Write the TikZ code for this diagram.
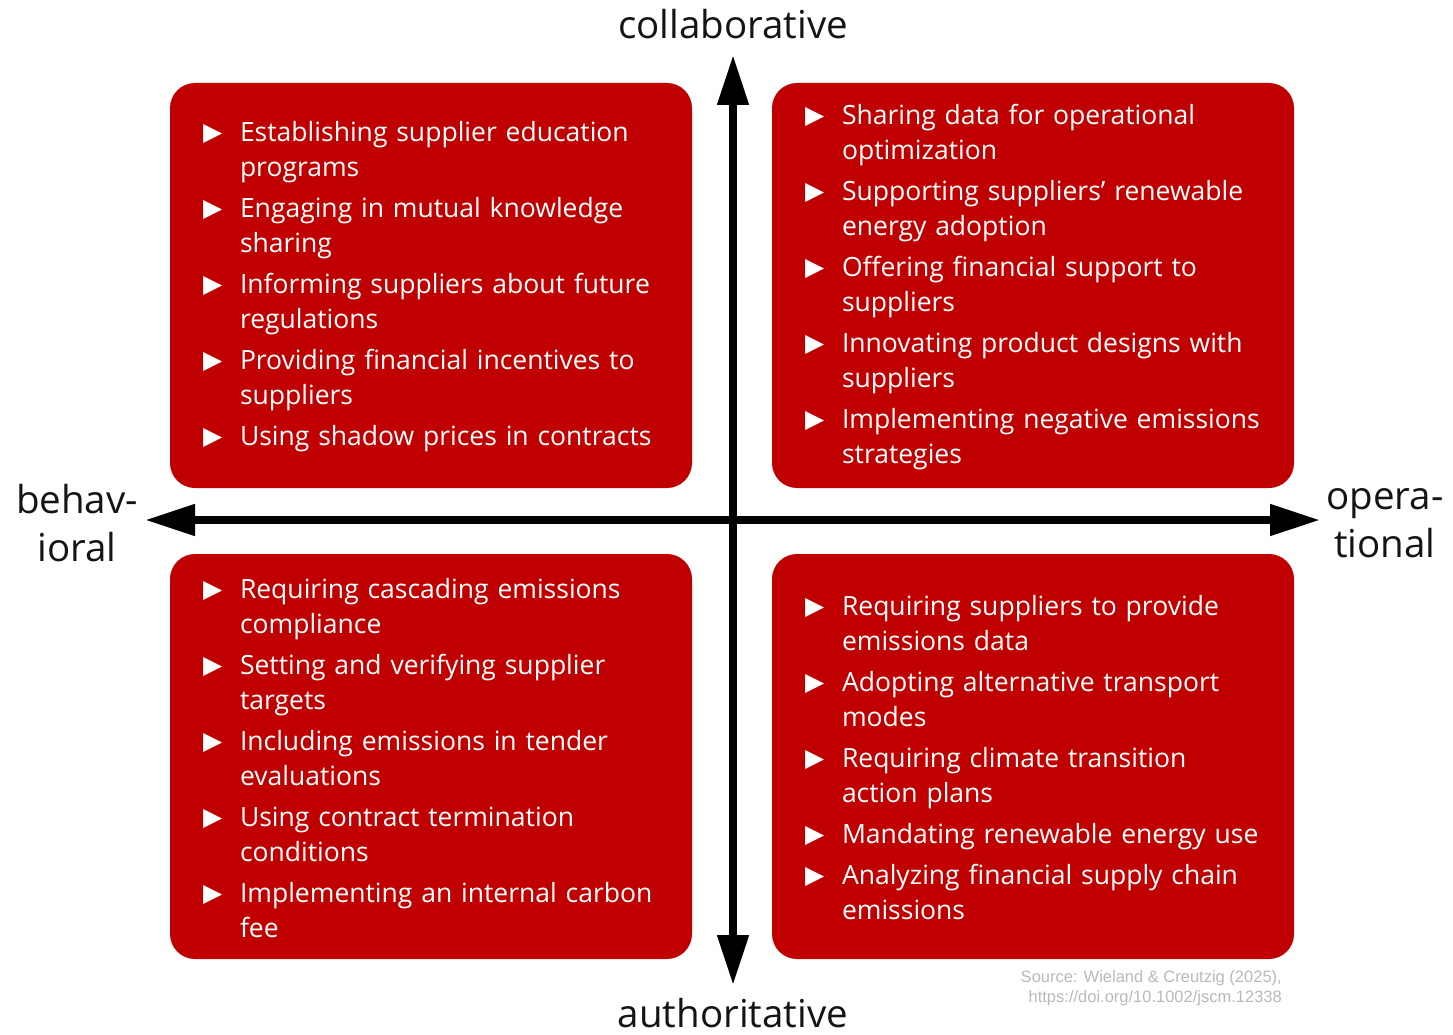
\documentclass[tikz,border=0pt]{standalone}
\usepackage{fontspec}
\setmainfont{Open Sans}
\newfontfamily\symfont{DejaVu Sans}
\newfontfamily\srcfont{Liberation Sans}
\usetikzlibrary{arrows.meta,positioning}
\definecolor{quadred}{RGB}{192,0,0}
\definecolor{srcgray}{RGB}{185,185,185}
\definecolor{axisblack}{RGB}{20,20,20}
\newcommand{\qitem}[1]{\par\hangindent=37pt\hangafter=1\noindent
  \makebox[37pt][l]{\raisebox{1pt}{\symfont\fontsize{25}{25}\selectfont ▶}}{\let\\\newline #1}\par}

\tikzset{
  quadbox/.style={fill=quadred, rounded corners=25pt, minimum width=522pt, minimum height=405pt,
    text width=456pt, text=white, align=left, inner sep=0pt, font=\fontsize{26.5}{35}\selectfont},
  axis/.style={line width=8pt, {Triangle[length=50pt,width=30pt]}-{Triangle[length=50pt,width=30pt]}},
  axislabel/.style={text=axisblack, align=center, font=\fontsize{38.5}{48}\selectfont},
  source/.style={text=srcgray, align=right, inner sep=0pt, font=\srcfont\fontsize{16.5}{20}\selectfont}
}

\begin{document}
\begin{tikzpicture}[x=1pt, y=-1pt]
  \useasboundingbox (0,0) rectangle (1453,1035);

  % quadrants
  \node[quadbox] (tl) at (431,285.5) {\setlength{\parskip}{6pt}\vspace*{-18pt}%
    \qitem{Establishing supplier education\\programs}
    \qitem{Engaging in mutual knowledge\\sharing}
    \qitem{Informing suppliers about future\\regulations}
    \qitem{Providing financial incentives to\\suppliers}
    \qitem{Using shadow prices in contracts}};
  \node[quadbox] (tr) at (1033,285.5) {\setlength{\parskip}{6pt}\vspace*{-18pt}%
    \qitem{Sharing data for operational\\optimization}
    \qitem{Supporting suppliers’ renewable\\energy adoption}
    \qitem{Offering financial support to\\suppliers}
    \qitem{Innovating product designs with\\suppliers}
    \qitem{Implementing negative emissions\\strategies}};
  \node[quadbox] (bl) at (431,756.5) {\setlength{\parskip}{6pt}\vspace*{-18pt}%
    \qitem{Requiring cascading emissions\\compliance}
    \qitem{Setting and verifying supplier\\targets}
    \qitem{Including emissions in tender\\evaluations}
    \qitem{Using contract termination\\conditions}
    \qitem{Implementing an internal carbon\\fee}};
  \node[quadbox] (br) at (1033,756.5) {\setlength{\parskip}{6pt}\vspace*{-18pt}%
    \qitem{Requiring suppliers to provide\\emissions data}
    \qitem{Adopting alternative transport\\modes}
    \qitem{Requiring climate transition\\action plans}
    \qitem{Mandating renewable energy use}
    \qitem{Analyzing financial supply chain\\emissions}};

  % axes
  \coordinate (ctop) at (733,55);
  \coordinate (cbot) at (733,985);
  \coordinate (cleft) at (145,520);
  \coordinate (cright) at (1320,520);
  \draw[axis] (cbot) -- (ctop);
  \draw[axis] (cleft) -- (cright);

  % axis labels
  \node[axislabel] (lcollab) at (733,24) {collaborative};
  \node[axislabel] (lauth) at (733,1013) {authoritative};
  \node[axislabel] (lbehav) at (77,523) {behav-\\ioral};
  \node[axislabel] (loper) at (1385,523) {opera-\\tional};

  % source
  \node[source, anchor=north east] (src) at (1282,970) {Source: Wieland \& Creutzig (2025),\\https://doi.org/10.1002/jscm.12338};
\end{tikzpicture}
\end{document}
